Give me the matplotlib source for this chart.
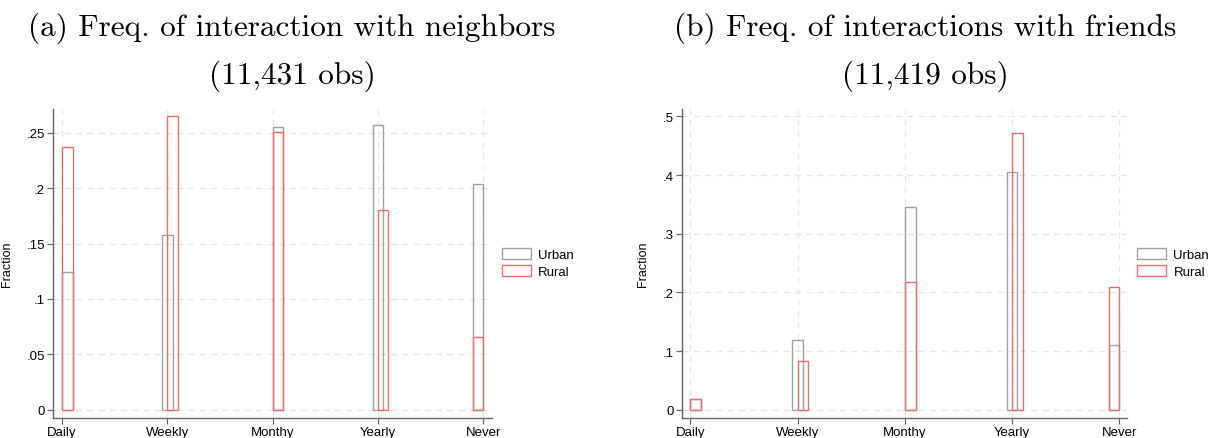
import matplotlib
matplotlib.use("Agg")
import matplotlib.pyplot as plt
from matplotlib.patches import Rectangle
import numpy as np

# ---------------- data ----------------
categories = ["Daily", "Weekly", "Monthy", "Yearly", "Never"]
series_names = ["Urban", "Rural"]

neighbors_urban = [0.124, 0.158, 0.255, 0.257, 0.204]
neighbors_rural = [0.237, 0.265, 0.251, 0.180, 0.066]

friends_urban = [0.019, 0.119, 0.345, 0.406, 0.110]
friends_rural = [0.019, 0.083, 0.218, 0.471, 0.209]

title_a = "(a) Freq. of interaction with neighbors"
obs_a = "(11,431 obs)"
title_b = "(b) Freq. of interactions with friends"
obs_b = "(11,419 obs)"

yticks_a = [0, 0.05, 0.1, 0.15, 0.2, 0.25]
yticklabels_a = ["0", ".05", ".1", ".15", ".2", ".25"]
yticks_b = [0, 0.1, 0.2, 0.3, 0.4, 0.5]
yticklabels_b = ["0", ".1", ".2", ".3", ".4", ".5"]

# ---------------- layout / style ----------------
W, H = 1209, 439
BAR_W = 0.1
urban_shift = [0.0, -0.05, 0.0, -0.05, -0.1]   # bar left edge offset from category
rural_shift = [0.0, 0.0, 0.0, 0.0, -0.1]
GRAY = "#a0a0a0"
RED = "#f26b6b"
SANS = ["Liberation Sans", "DejaVu Sans"]
TICK_FS = 9.5

plt.rcParams["font.family"] = SANS

fig = plt.figure(figsize=(W / 100, H / 100), dpi=100)


def px_axes(x0, x1, y0, y1):
    return fig.add_axes([x0 / W, 1 - y1 / H, (x1 - x0) / W, (y1 - y0) / H])


def panel(ax, urban, rural, yticks, ylabels, xlim, ylim, ylab_x):
    pos = np.arange(1, len(categories) + 1)
    ax.bar(pos + np.array(urban_shift), urban, width=BAR_W, align="edge",
           facecolor="none", edgecolor=GRAY, linewidth=1.0, zorder=3)
    ax.bar(pos + np.array(rural_shift), rural, width=BAR_W, align="edge",
           facecolor="none", edgecolor=RED, linewidth=1.0, zorder=4)
    ax.set_xlim(*xlim)
    ax.set_ylim(*ylim)
    ax.set_xticks(pos)
    ax.set_xticklabels(categories, fontsize=TICK_FS)
    ax.set_yticks(yticks)
    ax.set_yticklabels(ylabels, fontsize=TICK_FS)
    ax.set_ylabel("Fraction", fontsize=9)
    ax.yaxis.set_label_coords(ylab_x, 0.5)
    for s in ("top", "right"):
        ax.spines[s].set_visible(False)
    for s in ("left", "bottom"):
        ax.spines[s].set_color("#666666")
        ax.spines[s].set_linewidth(1.0)
    ax.tick_params(axis="both", direction="out", length=4, width=0.9,
                   color="#666666", pad=2)
    ax.grid(True, linestyle=(0, (5, 4)), color="#e6e6e6", linewidth=0.9, zorder=0)
    ax.set_axisbelow(True)


ax1 = px_axes(53.3, 491.7, 110, 419)
panel(ax1, neighbors_urban, neighbors_rural, yticks_a, yticklabels_a,
      (0.917, 5.08), (-0.0075, 0.2714), -0.092)

ax2 = px_axes(682.3, 1126.7, 110, 419)
panel(ax2, friends_urban, friends_rural, yticks_b, yticklabels_b,
      (0.925, 5.069), (-0.014, 0.5125), -0.076)

# titles
TFS = 22.5
fig.text(292 / W, 1 - 28 / H, title_a, family="cmr10", fontsize=TFS,
         ha="center", va="center")
fig.text(292 / W, 1 - 76 / H, obs_a, family="cmr10", fontsize=TFS,
         ha="center", va="center")
fig.text(925 / W, 1 - 28 / H, title_b, family="cmr10", fontsize=TFS,
         ha="center", va="center")
fig.text(925 / W, 1 - 76 / H, obs_b, family="cmr10", fontsize=TFS,
         ha="center", va="center")

# legends
handles = [Rectangle((0, 0), 1, 1, facecolor="none", edgecolor=GRAY, linewidth=1.0),
           Rectangle((0, 0), 1, 1, facecolor="none", edgecolor=RED, linewidth=1.0)]
for lx in (499, 1134.5):
    fig.legend(handles, series_names, loc="upper left",
               bbox_to_anchor=(lx / W, 1 - 246 / H), frameon=False,
               fontsize=9.5, handlelength=2.2, handleheight=0.9,
               handletextpad=0.55, labelspacing=0.3, borderaxespad=0,
               borderpad=0.2)

fig.savefig("out.png", dpi=100)
